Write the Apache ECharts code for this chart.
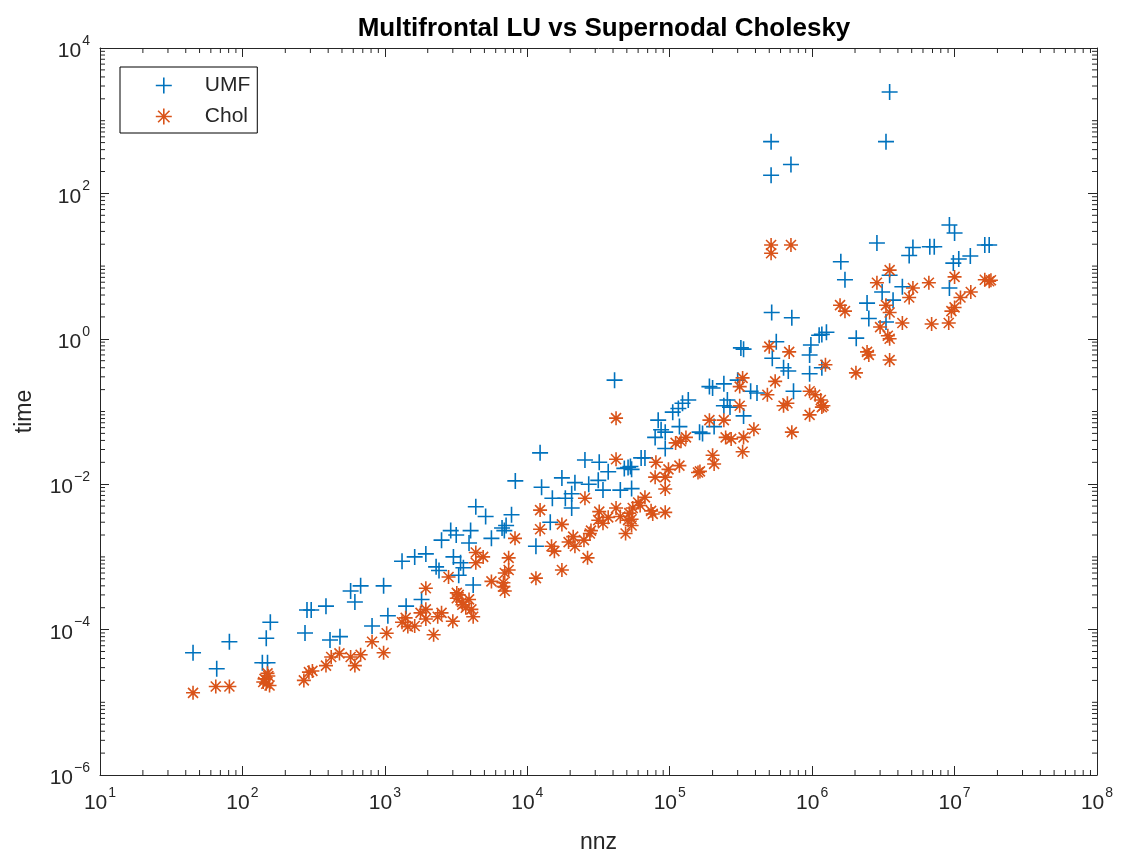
<!DOCTYPE html>
<html>
<head>
<meta charset="utf-8">
<title>Multifrontal LU vs Supernodal Cholesky</title>
<script src="https://cdn.jsdelivr.net/npm/echarts@6/dist/echarts.min.js"></script>
<style>
  html, body { margin: 0; padding: 0; background: #fff; }
  #chart { width: 1125px; height: 860px; }
</style>
</head>
<body>
<div id="chart"></div>
<script>
// nnz / time (log-log)
var umfNnz = [45, 66, 81, 138, 147, 150, 157, 275, 284, 304, 386, 412, 484, 575, 676, 616, 980, 813, 1050, 1410,
  1810, 1320, 1620, 1940, 12300, 8240, 12600, 25400, 32000, 37000, 51000, 53000, 17500, 21600, 27000, 31500,
  34000, 45000, 54000, 15000, 18500, 20500, 20500, 4350, 5100, 7750, 6650, 6900, 7100, 14500, 11500, 5600,
  4000, 3900, 3170, 2900, 2500, 3030, 3400, 3560, 2290, 2400, 4170, 3300,
  316000, 330000, 560000, 525000, 980000, 960000, 1.12e6, 1.17e6, 630000, 680000, 960000, 1.17e6,
  190000, 200000, 240000, 300000, 370000, 410000, 740000, 254000, 240000, 265000, 330000, 135000, 123000,
  115000, 105000, 83000, 87000, 79000, 93000, 93000, 117000, 162000, 170000, 205000, 67000, 63000, 54000,
  48000, 41000, 9.2e6, 1.0e7, 2.85e6, 5.1e6, 6.7e6, 7.2e6, 4.8e6, 1.63e7, 1.75e7, 1.29e7, 1.07e7, 9.8e6,
  1.59e6, 1.7e6, 3.5e6, 9.2e6, 4.3e6, 3.1e6, 3.7e6, 2.43e6, 2.5e6, 3.3e6, 1.26e6, 2.04e6,
  515000, 515000, 710000, 3.5e6, 3.3e6, 520000, 720000];
var umfTime = [4.8e-5, 2.9e-5, 6.8e-5, 3.5e-5, 7.6e-5, 3.5e-5, 1.26e-4, 9.0e-5, 1.86e-4, 1.86e-4, 2.1e-4, 7.2e-5,
  8.0e-5, 3.4e-4, 4.0e-4, 2.4e-4, 4.0e-4, 1.12e-4, 1.55e-4, 2.1e-4,
  2.6e-4, 8.7e-4, 1.0e-3, 1.1e-3, 0.027, 0.0111, 9.1e-3, 0.0215, 0.020, 0.0148, 0.017, 0.0175, 0.0122, 0.0105, 0.0100, 0.0113,
  8.3e-3, 8.3e-3, 8.7e-3, 6.4e-3, 6.4e-3, 4.7e-3, 7.4e-3, 4.9e-3, 3.6e-3, 3.8e-3, 2.5e-3, 2.3e-3, 2.7e-3, 3.0e-3, 1.4e-3, 1.8e-3,
  2.3e-3, 1.55e-3, 2.0e-3, 2.3e-3, 1.7e-3, 1.0e-3, 8.3e-4, 7.1e-4, 7.3e-4, 6.5e-4, 4.1e-4, 5.6e-4,
  0.75, 0.72, 0.91, 0.54, 0.82, 0.60, 1.12, 1.15, 0.40, 0.36, 0.33, 0.40,
  0.22, 0.21, 0.24, 0.27, 0.19, 0.18, 0.19, 0.144, 0.12, 0.115, 0.087, 0.144, 0.13,
  0.11, 0.098, 0.076, 0.056, 0.044, 0.052, 0.031, 0.062, 0.052, 0.050, 0.062, 0.023, 0.023, 0.016,
  0.0165, 0.27, 36.7, 28.5, 20.8, 18, 18.5, 18.5, 14, 19.5, 19.5, 13.8, 12.5, 11,
  11.5, 6.5, 7.5, 5.0, 5.2, 4.4, 3.4, 3.1, 1.9, 1.7, 1.23, 1.02,
  515, 178, 250, 2480, 515, 2.3, 1.95];

var cholNnz = [45, 65, 81, 143, 147, 152, 140, 155, 150, 270, 293, 310, 386, 420, 480, 575, 616, 676, 813, 980,
  1030, 1320, 1450, 1620, 1940, 1940, 1940, 42000, 25400, 12300, 12300, 17500, 8200, 14800, 15500, 19500,
  21600, 25000, 26500, 17500, 11500, 28000, 32000, 42000, 45000, 51000, 49000, 55000, 7400, 7400, 6800, 6950,
  5600, 4900, 4350, 4350, 2800, 3200, 3480, 3900, 4050, 4170, 3000, 2500, 3200, 3500, 3700, 3300, 2350, 1780,
  2200, 1400, 6950, 6800,
  500000, 690000, 325000, 310000, 550000, 485000, 630000, 670000, 960000, 1.05e6, 1.17e6, 960000, 720000,
  310000, 190000, 240000, 390000, 330000, 325000, 247000, 270000, 200000, 205000, 130000, 120000, 110000,
  163000, 158000, 117000, 98000, 93000, 93000, 80000, 79000, 67000, 60000, 74000, 76000, 93000, 52000, 54000,
  42000, 31500, 34000, 37000, 27500, 54000, 62000, 21000,
  3.5e6, 2.85e6, 1.0e7, 1.63e7, 1.75e7, 1.8e7, 1.3e7, 6.6e6, 5.1e6, 4.8e6, 1.1e7, 1.0e7, 9.5e6, 9.1e6, 6.9e6,
  1.57e6, 1.7e6, 3.3e6, 3.5e6, 3.0e6, 4.3e6, 3.5e6, 3.4e6, 2.43e6, 2.5e6, 3.5e6, 2.03e6, 1.24e6, 1.15e6, 1.2e6,
  515000, 515000, 710000];
var cholTime = [1.35e-5, 1.65e-5, 1.65e-5, 2.1e-5, 1.8e-5, 2.3e-5, 1.9e-5, 1.7e-5, 2.5e-5, 2.0e-5, 2.6e-5, 2.7e-5,
  3.2e-5, 4.2e-5, 4.7e-5, 4.2e-5, 3.2e-5, 4.5e-5, 6.8e-5, 4.8e-5,
  8.9e-5, 1.26e-4, 1.1e-4, 1.12e-4, 1.4e-4, 3.7e-4, 1.9e-4, 0.022, 6.4e-3, 4.4e-3, 2.4e-3, 2.8e-3, 1.8e-3, 1.4e-3, 1.2e-3, 1.6e-3,
  1.4e-3, 1.7e-3, 9.7e-4, 6.6e-4, 5.1e-4, 2.3e-3, 4.2e-3, 4.7e-3, 3.6e-3, 3.2e-3, 2.1e-3, 4.7e-3, 9.7e-4, 6.6e-4, 4.4e-4, 3.4e-4,
  4.6e-4, 1.0e-3, 8.3e-4, 1.15e-3, 5.3e-4, 3.2e-4, 2.4e-4, 2.6e-4, 1.9e-4, 1.5e-4, 1.3e-4, 1.7e-4, 2.7e-4, 2.2e-4, 2.0e-4, 3.0e-4, 1.5e-4, 1.7e-4,
  8.5e-5, 1.45e-4, 6.0e-4, 3.9e-4,
  0.78, 0.66, 0.29, 0.22, 0.26, 0.17, 0.12, 0.13, 0.19, 0.17, 0.115, 0.09, 0.052,
  0.12, 0.076, 0.076, 0.057, 0.044, 0.028, 0.044, 0.042, 0.025, 0.019, 0.044, 0.039, 0.037,
  0.015, 0.0145, 0.018, 0.016, 0.0125, 0.0086, 0.020, 0.0125, 6.6e-3, 5.6e-3, 4.3e-3, 3.9e-3, 4.1e-3, 4.0e-3, 3.3e-3,
  0.081, 3.2e-3, 2.9e-3, 3.5e-3, 2.1e-3, 2.7e-3, 5.1e-3, 1.9e-3,
  8.8, 5.9, 7.1, 6.5, 6.2, 6.4, 4.4, 5.9, 5.0, 3.7, 3.7, 2.7, 2.4, 1.65, 1.6,
  2.9, 2.4, 2.9, 2.3, 1.45, 1.65, 1.0, 1.1, 0.66, 0.6, 0.51, 0.34, 0.44, 0.144, 0.12,
  19.5, 15, 19.5];

var X_MIN = 1e1, X_MAX = 1e8;
var Y_MIN = 1e-6, Y_MAX = 1e4;
// minor tick multipliers inside each decade
var minorMult = [2, 3, 4, 5, 6, 7, 8, 9];

var AXIS_COLOR = '#262626';
var FONT = '"Liberation Sans", Arial, Helvetica, sans-serif';

function pairs(xs, ys) {
  var out = [];
  for (var i = 0; i < xs.length; i++) out.push([xs[i], ys[i]]);
  return out;
}

var xMinor = [];
for (var d = 1; d < 8; d++) {
  for (var k = 0; k < minorMult.length; k++) xMinor.push([minorMult[k] * Math.pow(10, d), Y_MIN]);
}
var yMinor = [];
for (var e = -6; e < 4; e++) {
  if (e % 2 !== 0) yMinor.push([X_MIN, Math.pow(10, e)]);
  for (var k2 = 0; k2 < minorMult.length; k2++) yMinor.push([X_MIN, minorMult[k2] * Math.pow(10, e)]);
}

function powLabel(v) {
  var ex = Math.round(Math.log(v) / Math.LN10);
  return '{b|10}{s|' + String(ex).replace('-', '\u2212') + '}';
}

var labelRich = {
  b: { fontSize: 21, color: AXIS_COLOR, fontFamily: FONT, lineHeight: 28, verticalAlign: 'bottom' },
  s: { fontSize: 14, color: AXIS_COLOR, fontFamily: FONT, lineHeight: 28, verticalAlign: 'top', padding: [0, 0, 0, 1] }
};

var PLUS = 'path://M0,8L16,8M8,0L8,16';
var STAR = 'path://M0,7L14,7M7,0L7,14M2,2L12,12M2,12L12,2';

function tickLine(x1, y1, x2, y2) {
  return { type: 'line', shape: { x1: x1, y1: y1, x2: x2, y2: y2 }, style: { stroke: AXIS_COLOR, lineWidth: 1 } };
}

var myChart = echarts.init(document.getElementById('chart'));

var option = {
  backgroundColor: '#fff',
  animation: false,
  title: {
    text: 'Multifrontal LU vs Supernodal Cholesky',
    left: 599, top: 11, textAlign: 'center',
    textStyle: { fontFamily: FONT, fontSize: 26, fontWeight: 'bold', color: '#000' }
  },
  legend: {
    orient: 'vertical',
    left: 120, top: 67,
    padding: [8, 7, 6, 35],
    itemGap: 10,
    itemWidth: 16, itemHeight: 16,
    backgroundColor: '#fff',
    borderColor: '#000', borderWidth: 1, borderRadius: 0,
    textStyle: { fontFamily: FONT, fontSize: 21, color: AXIS_COLOR, padding: [0, 0, 0, 28] },
    data: [
      { name: 'UMF', icon: PLUS, itemStyle: { color: 'rgba(0,0,0,0)', borderColor: '#0072BD', borderWidth: 1.6 } },
      { name: 'Chol', icon: STAR, itemStyle: { color: 'rgba(0,0,0,0)', borderColor: '#D95319', borderWidth: 1.6 } }
    ]
  },
  grid: { left: 100, right: 28, top: 48, bottom: 85 },
  xAxis: [
    {
      type: 'log', logBase: 10, min: X_MIN, max: X_MAX, interval: 1,
      name: 'nnz', nameLocation: 'middle', nameGap: 56,
      nameTextStyle: { fontFamily: FONT, fontSize: 23, color: AXIS_COLOR },
      axisLine: { lineStyle: { color: AXIS_COLOR, width: 1 } },
      axisTick: { inside: true, length: 9, lineStyle: { color: AXIS_COLOR } },
      axisLabel: { margin: 11, formatter: powLabel, rich: labelRich },
      splitLine: { show: false }
    },
    {
      type: 'log', logBase: 10, min: X_MIN, max: X_MAX, interval: 1, position: 'top',
      axisLine: { lineStyle: { color: AXIS_COLOR, width: 1 } },
      axisTick: { inside: true, length: 9, lineStyle: { color: AXIS_COLOR } },
      axisLabel: { show: false },
      splitLine: { show: false }
    }
  ],
  yAxis: [
    {
      type: 'log', logBase: 10, min: Y_MIN, max: Y_MAX, interval: 2,
      name: 'time', nameLocation: 'middle', nameGap: 64,
      nameTextStyle: { fontFamily: FONT, fontSize: 23, color: AXIS_COLOR },
      axisLine: { lineStyle: { color: AXIS_COLOR, width: 1 } },
      axisTick: { inside: true, length: 9, lineStyle: { color: AXIS_COLOR } },
      axisLabel: { margin: 10, formatter: powLabel, rich: labelRich },
      splitLine: { show: false }
    },
    {
      type: 'log', logBase: 10, min: Y_MIN, max: Y_MAX, interval: 2, position: 'right',
      axisLine: { lineStyle: { color: AXIS_COLOR, width: 1 } },
      axisTick: { inside: true, length: 9, lineStyle: { color: AXIS_COLOR } },
      axisLabel: { show: false },
      splitLine: { show: false }
    }
  ],
  series: [
    {
      name: 'UMF', type: 'scatter',
      symbol: PLUS, symbolSize: 16,
      itemStyle: { color: 'rgba(0,0,0,0)', borderColor: '#0072BD', borderWidth: 1.6, opacity: 1 },
      emphasis: { disabled: true },
      data: pairs(umfNnz, umfTime)
    },
    {
      name: 'Chol', type: 'scatter',
      symbol: STAR, symbolSize: 14,
      itemStyle: { color: 'rgba(0,0,0,0)', borderColor: '#D95319', borderWidth: 1.6, opacity: 1 },
      emphasis: { disabled: true },
      data: pairs(cholNnz, cholTime)
    },
    {
      name: 'xMinorTicks', type: 'custom', silent: true, clip: false,
      renderItem: function (params, api) {
        var b = api.coord([api.value(0), Y_MIN]);
        var t = api.coord([api.value(0), Y_MAX]);
        return { type: 'group', children: [
          tickLine(b[0], b[1], b[0], b[1] - 5),
          tickLine(t[0], t[1], t[0], t[1] + 5)
        ] };
      },
      data: xMinor, z: 1
    },
    {
      name: 'yMinorTicks', type: 'custom', silent: true, clip: false,
      renderItem: function (params, api) {
        var l = api.coord([X_MIN, api.value(1)]);
        var r = api.coord([X_MAX, api.value(1)]);
        return { type: 'group', children: [
          tickLine(l[0], l[1], l[0] + 5, l[1]),
          tickLine(r[0], r[1], r[0] - 5, r[1])
        ] };
      },
      data: yMinor, z: 1
    }
  ]
};

myChart.setOption(option);
</script>
</body>
</html>
